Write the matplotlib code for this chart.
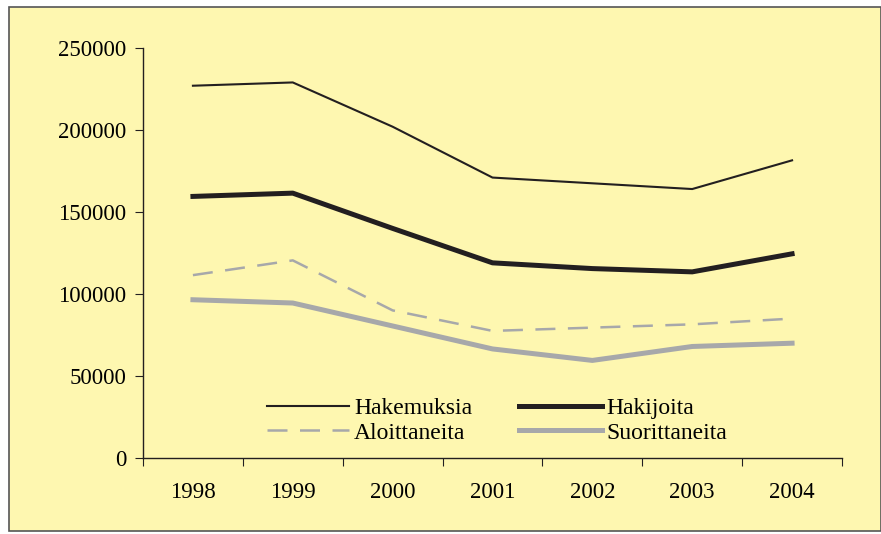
import matplotlib.pyplot as plt
from matplotlib.patches import Rectangle

plt.rcParams.update({'font.family': 'Liberation Serif',
                     'font.size': 16})

years = ['1998', '1999', '2000', '2001', '2002', '2003', '2004']
hakemuksia = [227000, 229000, 202000, 171000, 167500, 164000, 181500]
hakijoita = [159500, 161500, 140000, 119000, 115500, 113500, 124500]
aloittaneita = [111500, 120500, 90000, 77500, 79500, 81500, 85000]
suorittaneita = [96500, 94500, 80500, 66500, 59500, 68000, 70000]

bg = '#fef7b0'
ink = '#231f20'
grey = '#a7a8aa'

fig = plt.figure(figsize=(8.81, 5.34), dpi=100, facecolor='white')
fig.patches.append(Rectangle((9/881, 3/534), 872/881, 524/534, transform=fig.transFigure,
                             facecolor=bg, edgecolor='#555555', linewidth=1.2, zorder=-10))
ax = fig.add_axes([143/881, 76/534, 699/881, 410/534])
ax.set_facecolor('none')

x = range(len(years))
l1, = ax.plot(x, hakemuksia, color=ink, lw=1.5, label='Hakemuksia')
l2, = ax.plot(x, hakijoita, color=ink, lw=3.6, label='Hakijoita')
l3, = ax.plot(x, aloittaneita, color=grey, lw=1.8, dashes=(8, 5), label='Aloittaneita')
l4, = ax.plot(x, suorittaneita, color=grey, lw=3.6, label='Suorittaneita')

ax.set_xlim(-0.5, 6.5)
ax.set_ylim(0, 250000)
ax.set_yticks(range(0, 250001, 50000))
ax.set_yticklabels([str(v) for v in range(0, 250001, 50000)], fontsize=16.5)
ax.set_xticks([i - 0.5 for i in range(8)])
ax.set_xticklabels([])
ax.set_xticks(list(x), minor=True)
ax.set_xticklabels(years, minor=True, fontsize=16.5)
ax.tick_params(axis='x', which='minor', length=0, pad=17)
ax.tick_params(axis='x', which='major', length=6, direction='out', color=ink)
ax.tick_params(axis='y', length=6, color=ink, pad=6)
for s in ['top', 'right']:
    ax.spines[s].set_visible(False)
for s in ['left', 'bottom']:
    ax.spines[s].set_color(ink)
    ax.spines[s].set_linewidth(1.0)

# column-major fill -> order so rows read Hakemuksia/Hakijoita, Aloittaneita/Suorittaneita
leg = ax.legend([l1, l3, l2, l4], ['Hakemuksia', 'Aloittaneita', 'Hakijoita', 'Suorittaneita'],
                ncol=2, frameon=False, loc='upper left', bbox_to_anchor=(0.177, 0.147),
                handlelength=3.5, handletextpad=0.2, columnspacing=2.0,
                labelspacing=0.12, borderaxespad=0, borderpad=0, fontsize=17)

fig.savefig('out.png')
